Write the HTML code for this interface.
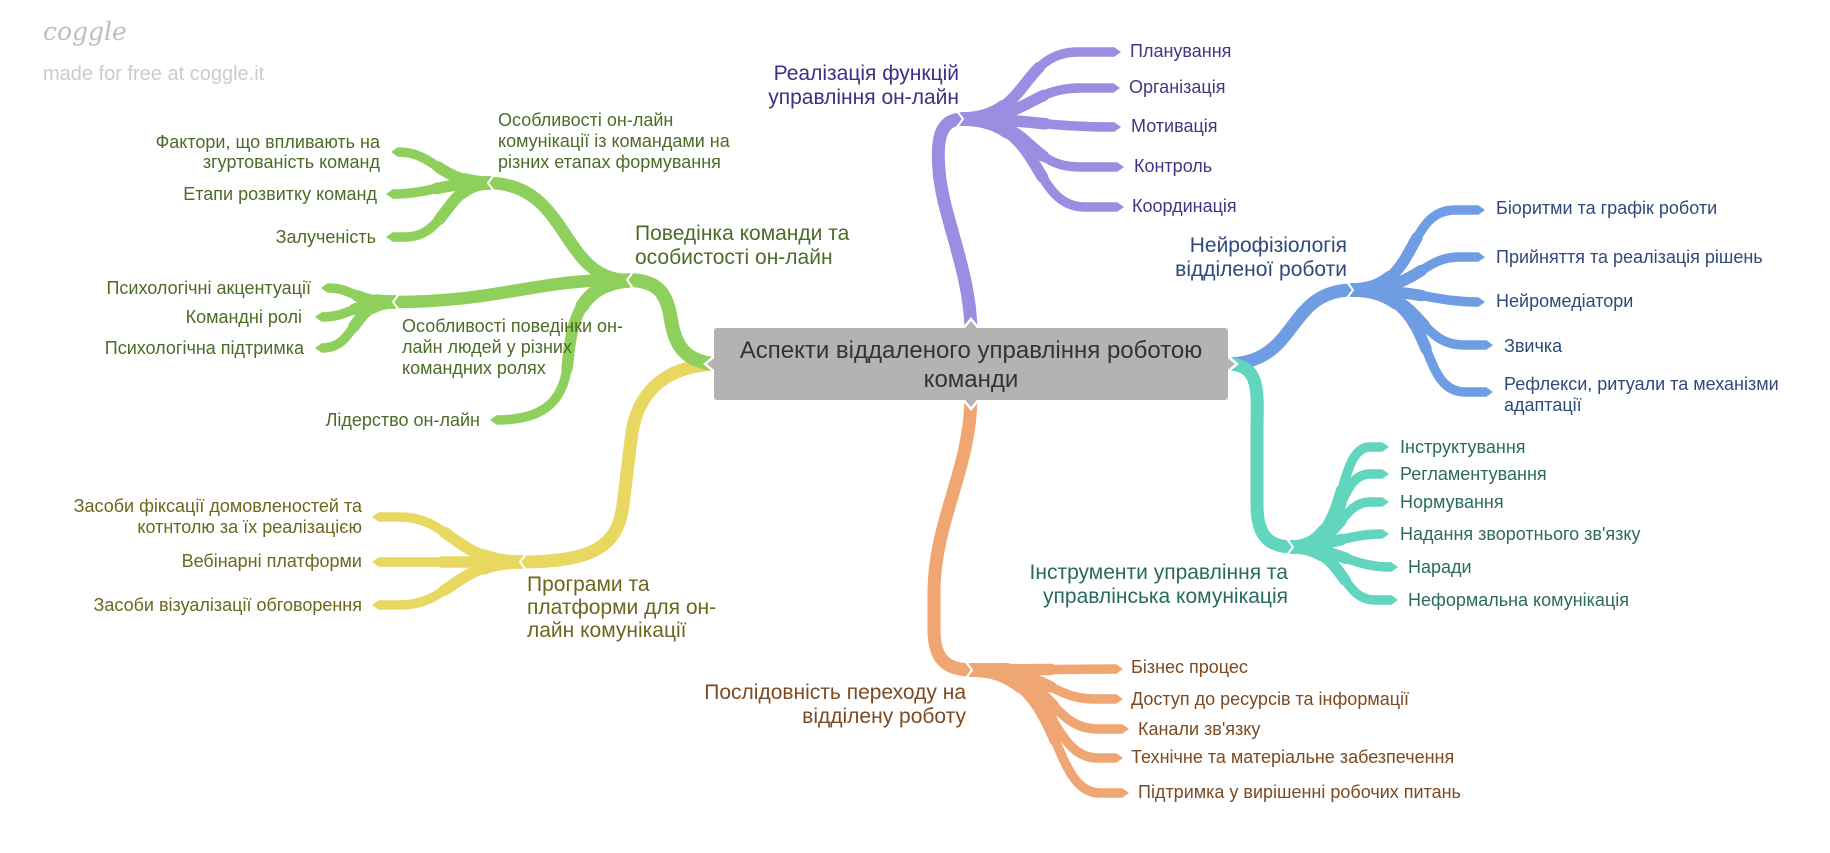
<!DOCTYPE html>
<html><head><meta charset="utf-8"><style>
html,body{margin:0;padding:0;background:#fff;}
svg{display:block;}
text{font-family:"Liberation Sans","DejaVu Sans",sans-serif;}
.tp{stroke-linecap:round;}
</style></head><body>
<svg width="1830" height="853" viewBox="0 0 1830 853" xmlns="http://www.w3.org/2000/svg">
<defs>
<marker id="mp" viewBox="0 -6 8 12" refX="0" refY="0" markerWidth="8" markerHeight="12" markerUnits="userSpaceOnUse" orient="auto"><path d="M0,-5 L7,0 L0,5 z" fill="#9c8de3"/></marker>
<marker id="mb" viewBox="0 -6 8 12" refX="0" refY="0" markerWidth="8" markerHeight="12" markerUnits="userSpaceOnUse" orient="auto"><path d="M0,-5 L7,0 L0,5 z" fill="#6f9de3"/></marker>
<marker id="mt" viewBox="0 -6 8 12" refX="0" refY="0" markerWidth="8" markerHeight="12" markerUnits="userSpaceOnUse" orient="auto"><path d="M0,-5 L7,0 L0,5 z" fill="#62d5bf"/></marker>
<marker id="mo" viewBox="0 -6 8 12" refX="0" refY="0" markerWidth="8" markerHeight="12" markerUnits="userSpaceOnUse" orient="auto"><path d="M0,-5 L7,0 L0,5 z" fill="#f0a672"/></marker>
<marker id="my" viewBox="0 -6 8 12" refX="0" refY="0" markerWidth="8" markerHeight="12" markerUnits="userSpaceOnUse" orient="auto"><path d="M0,-5 L7,0 L0,5 z" fill="#e8d862"/></marker>
<marker id="mg" viewBox="0 -6 8 12" refX="0" refY="0" markerWidth="8" markerHeight="12" markerUnits="userSpaceOnUse" orient="auto"><path d="M0,-5 L7,0 L0,5 z" fill="#8fd05c"/></marker>
</defs>

<!-- logo -->
<text x="43" y="40" font-style="italic" font-size="25" fill="#bdbdbd" style="font-family:'DejaVu Serif','Liberation Serif',serif">coggle</text>
<text x="43" y="80" font-size="20" fill="#cccccc">made for free at coggle.it</text>

<g fill="none" stroke-linecap="butt">
<!-- PURPLE -->
<g stroke="#9c8de3">
<path stroke-width="13" d="M971 330 C970 270, 942 215, 939 170 C936 135, 942 119, 963 119"/>
<g stroke-width="9.5" marker-end="url(#mp)">
<path d="M962 119 C1030 119, 1020 52, 1078 52 L1114 52"/>
<path d="M962 119 C1030 119, 1030 88, 1080 88 L1113 88"/>
<path d="M962 119 C1030 119, 1045 127, 1114 127"/>
<path d="M962 119 C1035 119, 1025 167, 1080 167 L1117 167"/>
<path d="M962 119 C1045 119, 1030 207, 1085 207 L1117 207"/>
</g>
<g class="tp" stroke-width="11.5" stroke-dasharray="55 300">
<path pathLength="100" d="M962 119 C1030 119, 1020 52, 1078 52 L1114 52"/>
<path pathLength="100" d="M962 119 C1030 119, 1030 88, 1080 88 L1113 88"/>
<path pathLength="100" d="M962 119 C1030 119, 1045 127, 1114 127"/>
<path pathLength="100" d="M962 119 C1035 119, 1025 167, 1080 167 L1117 167"/>
<path pathLength="100" d="M962 119 C1045 119, 1030 207, 1085 207 L1117 207"/>
</g>
<g class="tp" stroke-width="13.5" stroke-dasharray="25 300">
<path pathLength="100" d="M962 119 C1030 119, 1020 52, 1078 52 L1114 52"/>
<path pathLength="100" d="M962 119 C1030 119, 1030 88, 1080 88 L1113 88"/>
<path pathLength="100" d="M962 119 C1030 119, 1045 127, 1114 127"/>
<path pathLength="100" d="M962 119 C1035 119, 1025 167, 1080 167 L1117 167"/>
<path pathLength="100" d="M962 119 C1045 119, 1030 207, 1085 207 L1117 207"/>
</g>
</g>

<!-- BLUE -->
<g stroke="#6f9de3">
<path stroke-width="13" d="M1226 364 C1300 364, 1285 290, 1353 290"/>
<g stroke-width="9.5" marker-end="url(#mb)">
<path d="M1352 290 C1420 290, 1405 210, 1455 210 L1478 210"/>
<path d="M1352 290 C1420 290, 1420 257, 1460 257 L1478 257"/>
<path d="M1352 290 C1420 290, 1435 302, 1478 302"/>
<path d="M1352 290 C1425 290, 1415 345, 1465 345 L1486 345"/>
<path d="M1352 290 C1440 290, 1415 392, 1465 392 L1486 392"/>
</g>
<g class="tp" stroke-width="11.5" stroke-dasharray="55 300">
<path pathLength="100" d="M1352 290 C1420 290, 1405 210, 1455 210 L1478 210"/>
<path pathLength="100" d="M1352 290 C1420 290, 1420 257, 1460 257 L1478 257"/>
<path pathLength="100" d="M1352 290 C1420 290, 1435 302, 1478 302"/>
<path pathLength="100" d="M1352 290 C1425 290, 1415 345, 1465 345 L1486 345"/>
<path pathLength="100" d="M1352 290 C1440 290, 1415 392, 1465 392 L1486 392"/>
</g>
<g class="tp" stroke-width="13.5" stroke-dasharray="25 300">
<path pathLength="100" d="M1352 290 C1420 290, 1405 210, 1455 210 L1478 210"/>
<path pathLength="100" d="M1352 290 C1420 290, 1420 257, 1460 257 L1478 257"/>
<path pathLength="100" d="M1352 290 C1420 290, 1435 302, 1478 302"/>
<path pathLength="100" d="M1352 290 C1425 290, 1415 345, 1465 345 L1486 345"/>
<path pathLength="100" d="M1352 290 C1440 290, 1415 392, 1465 392 L1486 392"/>
</g>
</g>

<!-- TEAL -->
<g stroke="#62d5bf">
<path stroke-width="13" d="M1226 364 C1258 364, 1258 385, 1257 425 L1257 505 C1257 535, 1268 547, 1293 547"/>
<g stroke-width="9.5" marker-end="url(#mt)">
<path d="M1292 547 C1350 547, 1335 447, 1370 447 L1382 447"/>
<path d="M1292 547 C1345 547, 1335 474, 1370 474 L1382 474"/>
<path d="M1292 547 C1340 547, 1340 502, 1370 502 L1382 502"/>
<path d="M1292 547 C1330 547, 1345 534, 1382 534"/>
<path d="M1292 547 C1335 547, 1350 567, 1391 567"/>
<path d="M1292 547 C1345 547, 1340 600, 1375 600 L1391 600"/>
</g>
<g class="tp" stroke-width="11.5" stroke-dasharray="55 300">
<path pathLength="100" d="M1292 547 C1350 547, 1335 447, 1370 447 L1382 447"/>
<path pathLength="100" d="M1292 547 C1345 547, 1335 474, 1370 474 L1382 474"/>
<path pathLength="100" d="M1292 547 C1340 547, 1340 502, 1370 502 L1382 502"/>
<path pathLength="100" d="M1292 547 C1330 547, 1345 534, 1382 534"/>
<path pathLength="100" d="M1292 547 C1335 547, 1350 567, 1391 567"/>
<path pathLength="100" d="M1292 547 C1345 547, 1340 600, 1375 600 L1391 600"/>
</g>
<g class="tp" stroke-width="13.5" stroke-dasharray="25 300">
<path pathLength="100" d="M1292 547 C1350 547, 1335 447, 1370 447 L1382 447"/>
<path pathLength="100" d="M1292 547 C1345 547, 1335 474, 1370 474 L1382 474"/>
<path pathLength="100" d="M1292 547 C1340 547, 1340 502, 1370 502 L1382 502"/>
<path pathLength="100" d="M1292 547 C1330 547, 1345 534, 1382 534"/>
<path pathLength="100" d="M1292 547 C1335 547, 1350 567, 1391 567"/>
<path pathLength="100" d="M1292 547 C1345 547, 1340 600, 1375 600 L1391 600"/>
</g>
</g>

<!-- ORANGE -->
<g stroke="#f0a672">
<path stroke-width="13" d="M971 398 C970 470, 935 520, 934 590 L934 630 C934 658, 945 670, 972 670"/>
<g stroke-width="9.5" marker-end="url(#mo)">
<path d="M971 670 L1116 669"/>
<path d="M971 670 C1050 670, 1050 699, 1095 699 L1116 699"/>
<path d="M971 670 C1055 670, 1048 729, 1098 729 L1122 729"/>
<path d="M971 670 C1058 670, 1048 758, 1098 758 L1116 758"/>
<path d="M971 670 C1065 670, 1048 793, 1100 793 L1122 793"/>
</g>
<g class="tp" stroke-width="11.5" stroke-dasharray="55 300">
<path pathLength="100" d="M971 670 L1116 669"/>
<path pathLength="100" d="M971 670 C1050 670, 1050 699, 1095 699 L1116 699"/>
<path pathLength="100" d="M971 670 C1055 670, 1048 729, 1098 729 L1122 729"/>
<path pathLength="100" d="M971 670 C1058 670, 1048 758, 1098 758 L1116 758"/>
<path pathLength="100" d="M971 670 C1065 670, 1048 793, 1100 793 L1122 793"/>
</g>
<g class="tp" stroke-width="13.5" stroke-dasharray="25 300">
<path pathLength="100" d="M971 670 L1116 669"/>
<path pathLength="100" d="M971 670 C1050 670, 1050 699, 1095 699 L1116 699"/>
<path pathLength="100" d="M971 670 C1055 670, 1048 729, 1098 729 L1122 729"/>
<path pathLength="100" d="M971 670 C1058 670, 1048 758, 1098 758 L1116 758"/>
<path pathLength="100" d="M971 670 C1065 670, 1048 793, 1100 793 L1122 793"/>
</g>
</g>

<!-- YELLOW -->
<g stroke="#e8d862">
<path stroke-width="13" d="M716 364 C665 366, 636 392, 631 440 L623 505 C618 547, 592 562, 520 562"/>
<g stroke-width="9.5" marker-end="url(#my)">
<path d="M521 562 C455 562, 450 517, 400 517 L379 517"/>
<path d="M521 562 L379 562"/>
<path d="M521 562 C455 562, 450 605, 400 605 L379 605"/>
</g>
<g class="tp" stroke-width="11.5" stroke-dasharray="55 300">
<path pathLength="100" d="M521 562 C455 562, 450 517, 400 517 L379 517"/>
<path pathLength="100" d="M521 562 L379 562"/>
<path pathLength="100" d="M521 562 C455 562, 450 605, 400 605 L379 605"/>
</g>
<g class="tp" stroke-width="13.5" stroke-dasharray="25 300">
<path pathLength="100" d="M521 562 C455 562, 450 517, 400 517 L379 517"/>
<path pathLength="100" d="M521 562 L379 562"/>
<path pathLength="100" d="M521 562 C455 562, 450 605, 400 605 L379 605"/>
</g>
</g>

<!-- GREEN -->
<g stroke="#8fd05c">
<path stroke-width="14" d="M716 364 C685 362, 675 345, 671 320 C667 292, 657 280, 627 280"/>
<path stroke-width="12.5" d="M628 280 C560 280, 570 183, 488 183"/>
<path stroke-width="12.5" d="M628 280 C540 278, 500 302, 393 302"/>
<path stroke-width="9.5" marker-end="url(#mg)" d="M628 281 C580 285, 572 320, 568 360 C565 400, 545 420, 497 420"/>
<g stroke-width="9.5" marker-end="url(#mg)">
<path d="M489 183 C440 183, 435 152, 398 152"/>
<path d="M489 183 C440 183, 430 194, 393 194"/>
<path d="M489 183 C445 183, 448 237, 405 237 L393 237"/>
<path d="M394 302 C352 302, 355 288, 328 288"/>
<path d="M394 302 C355 302, 350 317, 322 317"/>
<path d="M394 302 C350 302, 358 348, 322 348"/>
</g>
<g class="tp" stroke-width="11.5" stroke-dasharray="55 300">
<path pathLength="100" d="M489 183 C440 183, 435 152, 398 152"/>
<path pathLength="100" d="M489 183 C440 183, 430 194, 393 194"/>
<path pathLength="100" d="M489 183 C445 183, 448 237, 405 237 L393 237"/>
<path pathLength="100" d="M394 302 C352 302, 355 288, 328 288"/>
<path pathLength="100" d="M394 302 C355 302, 350 317, 322 317"/>
<path pathLength="100" d="M394 302 C350 302, 358 348, 322 348"/>
<path pathLength="100" d="M628 281 C580 285, 572 320, 568 360 C565 400, 545 420, 497 420"/>
</g>
<g class="tp" stroke-width="13.5" stroke-dasharray="25 300">
<path pathLength="100" d="M489 183 C440 183, 435 152, 398 152"/>
<path pathLength="100" d="M489 183 C440 183, 430 194, 393 194"/>
<path pathLength="100" d="M489 183 C445 183, 448 237, 405 237 L393 237"/>
<path pathLength="100" d="M394 302 C352 302, 355 288, 328 288"/>
<path pathLength="100" d="M394 302 C355 302, 350 317, 322 317"/>
<path pathLength="100" d="M394 302 C350 302, 358 348, 322 348"/>
<path pathLength="100" d="M628 281 C580 285, 572 320, 568 360 C565 400, 545 420, 497 420"/>
</g>
</g>

<!-- junction chevrons -->
<g stroke="#fff" stroke-width="2" stroke-linejoin="miter">
<polyline points="957,111 963,119 957,127"/>
<polyline points="1347,282 1353,290 1347,298"/>
<polyline points="1287,539 1293,547 1287,555"/>
<polyline points="966,662 972,670 966,678"/>
<polyline points="526,554 520,562 526,570"/>
<polyline points="633,272 627,280 633,288"/>
<polyline points="494,175 488,183 494,191"/>
<polyline points="399,294 393,302 399,310"/>
</g>
</g>

<!-- central box -->
<g fill="#b3b3b3" stroke="#fff" stroke-width="2.5" stroke-linejoin="miter">
<polygon points="962,330 971,319 980,330"/>
<polygon points="962,398 971,409 980,398"/>
<polygon points="716,355 705,364 716,373"/>
<polygon points="1226,355 1237,364 1226,373"/>
</g>
<rect x="714" y="328" width="514" height="72" rx="3" ry="3" fill="#b3b3b3"/>
<g font-size="24" fill="#333" text-anchor="middle">
<text x="971" y="358">Аспекти віддаленого управління роботою</text>
<text x="971" y="387">команди</text>
</g>

<!-- PURPLE text -->
<g font-size="21" fill="#3b3086" text-anchor="end">
<text x="959" y="80">Реалізація функцій</text>
<text x="959" y="104">управління он-лайн</text>
</g>
<g font-size="18" fill="#3e3882">
<text x="1130" y="57">Планування</text>
<text x="1129" y="93">Організація</text>
<text x="1131" y="132">Мотивація</text>
<text x="1134" y="172">Контроль</text>
<text x="1132" y="212">Координація</text>
</g>

<!-- BLUE text -->
<g font-size="21" fill="#2f4978" text-anchor="end">
<text x="1347" y="252">Нейрофізіологія</text>
<text x="1347" y="276">відділеної роботи</text>
</g>
<g font-size="18" fill="#2f4a7a">
<text x="1496" y="214">Біоритми та графік роботи</text>
<text x="1496" y="263">Прийняття та реалізація рішень</text>
<text x="1496" y="307">Нейромедіатори</text>
<text x="1504" y="352">Звичка</text>
<text x="1504" y="390">Рефлекси, ритуали та механізми</text>
<text x="1504" y="411">адаптації</text>
</g>

<!-- TEAL text -->
<g font-size="21" fill="#286b5d" text-anchor="end">
<text x="1288" y="579">Інструменти управління та</text>
<text x="1288" y="603">управлінська комунікація</text>
</g>
<g font-size="18" fill="#2a6b5e">
<text x="1400" y="453">Інструктування</text>
<text x="1400" y="480">Регламентування</text>
<text x="1400" y="508">Нормування</text>
<text x="1400" y="540">Надання зворотнього зв'язку</text>
<text x="1408" y="573">Наради</text>
<text x="1408" y="606">Неформальна комунікація</text>
</g>

<!-- ORANGE text -->
<g font-size="21" fill="#7d4a21" text-anchor="end">
<text x="966" y="699">Послідовність переходу на</text>
<text x="966" y="723">відділену роботу</text>
</g>
<g font-size="18" fill="#7d4a21">
<text x="1131" y="673">Бізнес процес</text>
<text x="1131" y="705">Доступ до ресурсів та інформації</text>
<text x="1138" y="735">Канали зв'язку</text>
<text x="1131" y="763">Технічне та матеріальне забезпечення</text>
<text x="1138" y="798">Підтримка у вирішенні робочих питань</text>
</g>

<!-- YELLOW text -->
<g font-size="21" fill="#6b671d">
<text x="527" y="591">Програми та</text>
<text x="527" y="614">платформи для он-</text>
<text x="527" y="637">лайн комунікації</text>
</g>
<g font-size="18" fill="#6b671d" text-anchor="end">
<text x="362" y="512">Засоби фіксації домовленостей та</text>
<text x="362" y="533">котнтолю за їх реалізацією</text>
<text x="362" y="567">Вебінарні платформи</text>
<text x="362" y="611">Засоби візуалізації обговорення</text>
</g>

<!-- GREEN text -->
<g font-size="21" fill="#4d6b27">
<text x="635" y="240">Поведінка команди та</text>
<text x="635" y="264">особистості он-лайн</text>
</g>
<g font-size="18" fill="#4d6b27">
<text x="498" y="126">Особливості он-лайн</text>
<text x="498" y="147">комунікації із командами на</text>
<text x="498" y="168">різних етапах формування</text>
<text x="402" y="332">Особливості поведінки он-</text>
<text x="402" y="353">лайн людей у різних</text>
<text x="402" y="374">командних ролях</text>
</g>
<g font-size="18" fill="#4d6b27" text-anchor="end">
<text x="380" y="148">Фактори, що впливають на</text>
<text x="380" y="168">згуртованість команд</text>
<text x="377" y="200">Етапи розвитку команд</text>
<text x="376" y="243">Залученість</text>
<text x="311" y="294">Психологічні акцентуації</text>
<text x="302" y="323">Командні ролі</text>
<text x="304" y="354">Психологічна підтримка</text>
<text x="480" y="426">Лідерство он-лайн</text>
</g>
</svg>
</body></html>
